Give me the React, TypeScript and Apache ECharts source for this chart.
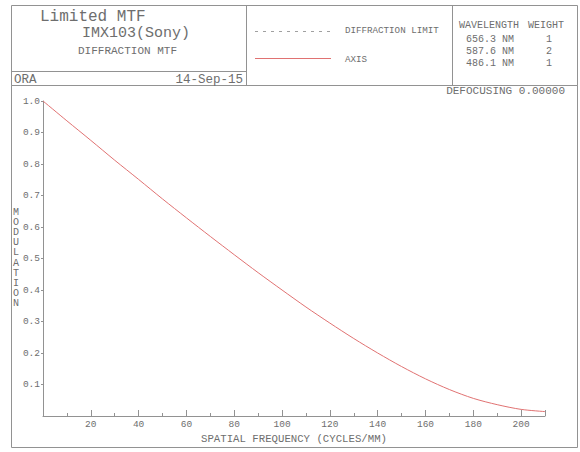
import React, { useEffect, useRef } from "react";
import * as echarts from "echarts";

const frequencies = [0, 10, 20, 30, 40, 50, 60, 70, 80, 90, 100, 110, 120, 130, 140, 150, 160, 170, 180, 190, 200, 210];
const axisMtf = [1.0, 0.937, 0.875, 0.812, 0.751, 0.689, 0.629, 0.57, 0.512, 0.455, 0.4, 0.346, 0.295, 0.246, 0.2, 0.157, 0.118, 0.084, 0.056, 0.036, 0.021, 0.014];
const wavelengths = ["656.3 NM", "587.6 NM", "486.1 NM"];
const weights = ["1", "2", "1"];
const titleLines = ["Limited MTF", "IMX103(Sony)", "DIFFRACTION MTF"];
const yTickLabels = ["0.1", "0.2", "0.3", "0.4", "0.5", "0.6", "0.7", "0.8", "0.9", "1.0"];

const FONT = "'Liberation Mono', 'DejaVu Sans Mono', monospace";
const GRAY = "#929292";
const TEXT = "#6e6e6e";
const RED = "#e07272";

export default function App() {
  const ref = useRef<HTMLDivElement>(null);
  useEffect(() => {
    if (!ref.current) return;
    const chart = echarts.init(ref.current, null, { renderer: "svg" });
    const t = (text: string, x: number, y: number, size: number, align = "left", extra: any = {}) => ({
      type: "text",
      x,
      y,
      silent: true,
      style: {
        text,
        fontFamily: FONT,
        fontSize: size,
        fill: TEXT,
        align,
        verticalAlign: "middle",
        ...extra,
      },
    });
    const ln = (x1: number, y1: number, x2: number, y2: number, style: any = {}) => ({
      type: "line",
      silent: true,
      shape: { x1, y1, x2, y2 },
      style: { stroke: GRAY, lineWidth: 1, ...style },
    });
    const graphics: any[] = [
      { type: "rect", silent: true, shape: { x: 11.5, y: 5.5, width: 566, height: 80 }, style: { fill: "none", stroke: GRAY, lineWidth: 1 } },
      { type: "rect", silent: true, shape: { x: 11.5, y: 85.5, width: 566, height: 362 }, style: { fill: "none", stroke: GRAY, lineWidth: 1 } },
      ln(246.5, 5.5, 246.5, 85.5),
      ln(452.5, 5.5, 452.5, 85.5),
      ln(11.5, 71.5, 246.5, 71.5),
      t(titleLines[0], 40, 17, 16),
      t(titleLines[1], 82, 33, 15),
      t(titleLines[2], 78, 51, 11),
      t("ORA", 14, 80, 12.5),
      t("14-Sep-15", 243, 80, 12.5, "right"),
      ln(255, 31.5, 333, 31.5, { lineDash: [3, 5], stroke: "#a0a0a0" }),
      t("DIFFRACTION LIMIT", 345, 30, 9.2),
      ln(255, 58.5, 331, 58.5, { stroke: RED }),
      t("AXIS", 345, 59, 9.2),
      t("WAVELENGTH", 459, 25, 10),
      t("WEIGHT", 546, 25, 10, "center"),
      t("DEFOCUSING 0.00000", 565, 91, 11, "right"),
      t("M\nO\nD\nU\nL\nA\nT\nI\nO\nN", 16, 258, 10, "center", { lineHeight: 10.1 }),
    ];
    wavelengths.forEach((w, i) => {
      graphics.push(t(w, 466, 39 + i * 12, 10));
      graphics.push(t(weights[i], 549, 39 + i * 12, 10, "center"));
    });

    chart.setOption({
      animation: false,
      grid: { left: 43, right: 35, top: 101, bottom: 36, containLabel: false },
      xAxis: {
        type: "value",
        min: 0,
        max: 210,
        interval: 20,
        name: "SPATIAL FREQUENCY (CYCLES/MM)",
        nameLocation: "middle",
        nameGap: 15,
        nameTextStyle: { fontFamily: FONT, fontSize: 10.7, color: TEXT, verticalAlign: "top" },
        axisLine: { show: true, lineStyle: { color: GRAY, width: 1 } },
        axisTick: { show: true, inside: true, length: 6, lineStyle: { color: GRAY } },
        minorTick: { show: true, splitNumber: 2, length: 3, lineStyle: { color: GRAY } },
        axisLabel: {
          showMinLabel: false,
          showMaxLabel: false,
          margin: 3,
          fontFamily: FONT,
          fontSize: 9.5,
          color: TEXT,
          formatter: (v: number) => (v === 0 || v === 210 ? "" : String(v)),
        },
        splitLine: { show: false },
      },
      yAxis: {
        type: "value",
        min: 0,
        max: 1,
        interval: 0.1,
        axisLine: { show: true, lineStyle: { color: GRAY, width: 1 } },
        axisTick: { show: true, length: 2, lineStyle: { color: GRAY } },
        axisLabel: {
          showMinLabel: false,
          margin: 3,
          fontFamily: FONT,
          fontSize: 9.5,
          color: TEXT,
          formatter: (v: number) => {
            const idx = Math.round(v * 10) - 1;
            return idx >= 0 && idx < yTickLabels.length ? yTickLabels[idx] : "";
          },
        },
        splitLine: { show: false },
      },
      series: [
        {
          type: "line",
          name: "AXIS",
          data: frequencies.map((f, i) => [f, axisMtf[i]]),
          smooth: 0.3,
          showSymbol: false,
          lineStyle: { color: RED, width: 1 },
        },
      ],
      graphic: graphics,
    });
    return () => chart.dispose();
  }, []);
  return <div ref={ref} style={{ width: 580, height: 452, position: "absolute", left: 0, top: 0 }} />;
}
